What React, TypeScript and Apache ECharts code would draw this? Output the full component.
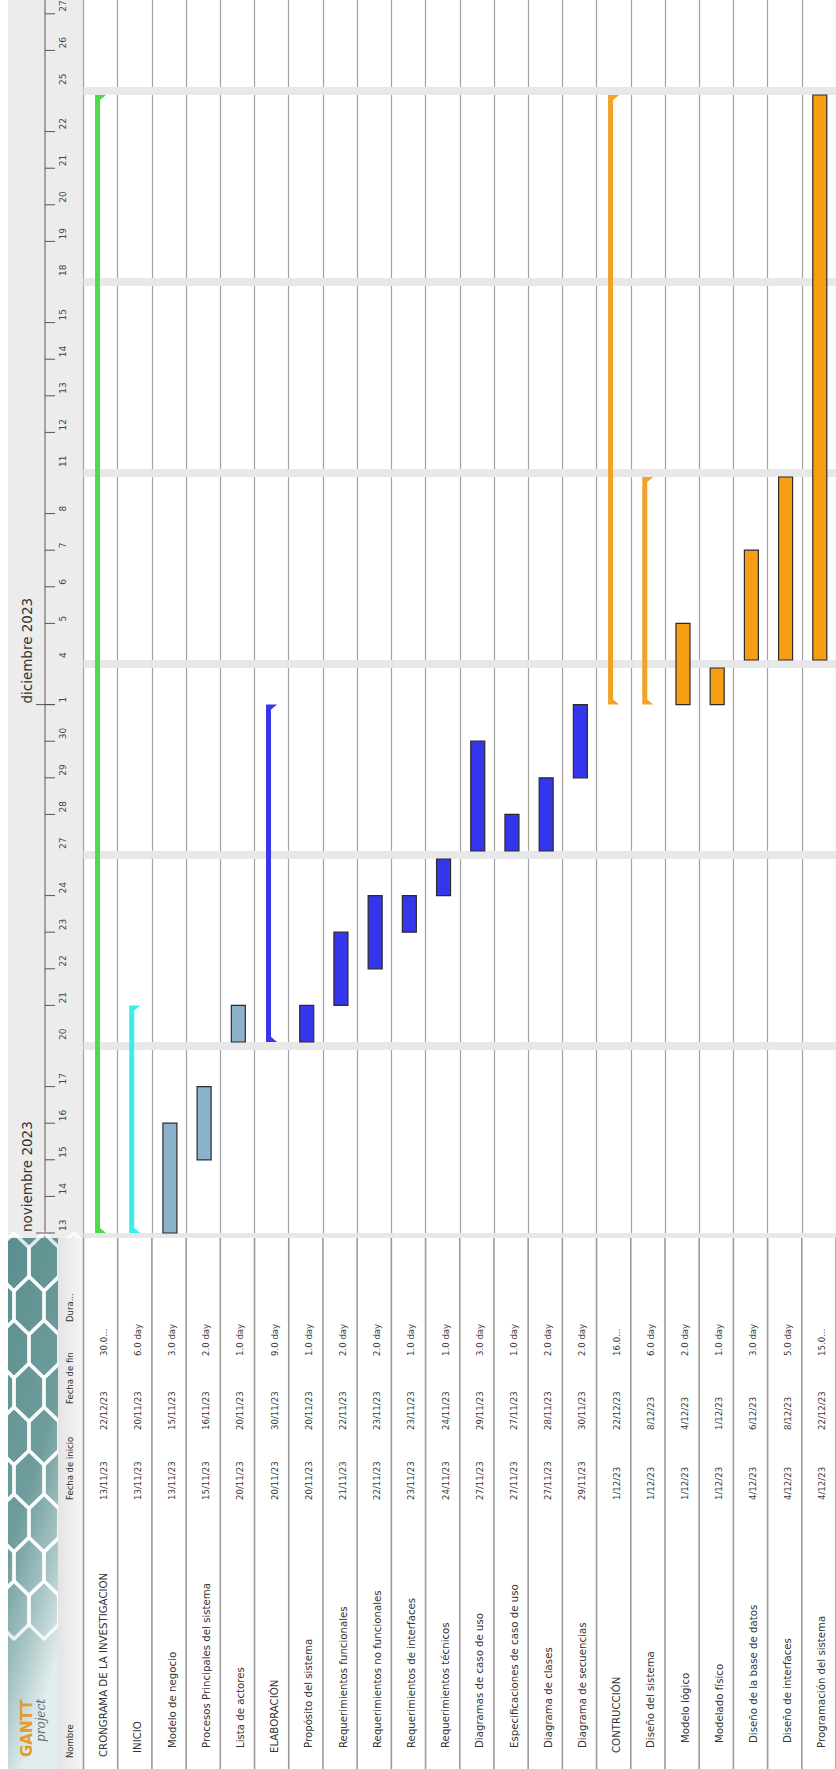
import React, { useEffect, useRef } from 'react';
import * as echarts from 'echarts';

// ---------------- DATA ----------------
const ORIGIN = '13/11/23';

const TASK_NAMES = [
  'CRONGRAMA DE LA INVESTIGACION',
  'INICIO',
  'Modelo de negocio',
  'Procesos Principales del sistema',
  'Lista de actores',
  'ELABORACIÓN',
  'Propósito del sistema',
  'Requerimientos funcionales',
  'Requerimientos no funcionales',
  'Requerimientos de interfaces',
  'Requerimientos técnicos',
  'Diagramas de caso de uso',
  'Especificaciones de caso de uso',
  'Diagrama de clases',
  'Diagrama de secuencias',
  'CONTRUCCIÓN',
  'Diseño del sistema',
  'Modelo lógico',
  'Modelado físico',
  'Diseño de la base de datos',
  'Diseño de interfaces',
  'Programación del sistema',
];
const TASK_LEVELS = [0, 1, 2, 2, 2, 1, 2, 2, 2, 2, 2, 2, 2, 2, 2, 1, 2, 3, 3, 3, 3, 2];
const TASK_STARTS = [
  '13/11/23', '13/11/23', '13/11/23', '15/11/23', '20/11/23', '20/11/23', '20/11/23', '21/11/23',
  '22/11/23', '23/11/23', '24/11/23', '27/11/23', '27/11/23', '27/11/23', '29/11/23', '1/12/23',
  '1/12/23', '1/12/23', '1/12/23', '4/12/23', '4/12/23', '4/12/23',
];
const TASK_ENDS = [
  '22/12/23', '20/11/23', '15/11/23', '16/11/23', '20/11/23', '30/11/23', '20/11/23', '22/11/23',
  '23/11/23', '23/11/23', '24/11/23', '29/11/23', '27/11/23', '28/11/23', '30/11/23', '22/12/23',
  '8/12/23', '4/12/23', '1/12/23', '6/12/23', '8/12/23', '22/12/23',
];
const TASK_DURATIONS = [
  '30.0...', '6.0 day', '3.0 day', '2.0 day', '1.0 day', '9.0 day', '1.0 day', '2.0 day',
  '2.0 day', '1.0 day', '1.0 day', '3.0 day', '1.0 day', '2.0 day', '2.0 day', '16.0...',
  '6.0 day', '2.0 day', '1.0 day', '3.0 day', '5.0 day', '15.0...',
];
const TASK_SUMMARY = [true, true, false, false, false, true, false, false, false, false, false, false, false, false, false, true, true, false, false, false, false, false];
const TASK_PHASE = ['root', 'inicio', 'inicio', 'inicio', 'inicio', 'elab', 'elab', 'elab', 'elab', 'elab', 'elab', 'elab', 'elab', 'elab', 'elab', 'constr', 'constr', 'constr', 'constr', 'constr', 'constr', 'constr'];

const DAY_TICKS = [
  '13/11/23', '14/11/23', '15/11/23', '16/11/23', '17/11/23',
  '20/11/23', '21/11/23', '22/11/23', '23/11/23', '24/11/23',
  '27/11/23', '28/11/23', '29/11/23', '30/11/23', '1/12/23',
  '4/12/23', '5/12/23', '6/12/23', '7/12/23', '8/12/23',
  '11/12/23', '12/12/23', '13/12/23', '14/12/23', '15/12/23',
  '18/12/23', '19/12/23', '20/12/23', '21/12/23', '22/12/23',
  '25/12/23', '26/12/23', '27/12/23',
];
const WEEKENDS = ['11/11/23', '18/11/23', '25/11/23', '2/12/23', '9/12/23', '16/12/23', '23/12/23'];
const MONTH_LABELS = ['noviembre 2023', 'diciembre 2023'];
const MONTH_STARTS = ['1/11/23', '1/12/23'];
const HEADER_LABELS = ['Nombre', 'Fecha de inicio', 'Fecha de fin', 'Dura...'];

// ---------------- STYLE / LAYOUT ----------------
const W = 836;
const H = 1769;
const DAY_PX = 36.6;
const WEEKEND_PX = 8;
const WEEKEND_UNITS = WEEKEND_PX / DAY_PX;
const ROW_PX = 34.45;
const GRID_LEFT = 83.5;
const CHART_BOTTOM = 1238; // where the task table starts
const ORIGIN_Y = 1233; // pixel row of the start of 13/11/23

const SUMMARY_COLORS: Record<string, string> = {
  root: '#4cdc4c',
  inicio: '#35eeee',
  elab: '#3636e4',
  constr: '#f2a226',
};
const TASK_COLORS: Record<string, string> = {
  inicio: '#8bb1cb',
  elab: '#3535ee',
  constr: '#f79f14',
};
const FONT = '"DejaVu Sans", "Liberation Sans", sans-serif';

// table column (y) positions: text starts here and reads upward
const NAME_Y = 1757;
const LEVEL_INDENT = [0, 4, 9, 14];
const START_Y = 1500;
const END_Y = 1430;
const DUR_Y = 1356;
const HEADER_X = 70;
const HEADER_YS = [1758, 1500, 1404, 1322];

// ---------------- helpers ----------------
function parseD(s: string) {
  const [d, m, y] = s.split('/').map(Number);
  return Date.UTC(2000 + y, m - 1, d);
}
const DAY_MS = 86400000;
function offsetOf(s: string) {
  let t = parseD(ORIGIN);
  const target = parseD(s);
  let u = 0;
  if (target >= t) {
    while (t < target) {
      const wd = new Date(t).getUTCDay();
      if (wd === 6) u += WEEKEND_UNITS;
      else if (wd !== 0) u += 1;
      t += DAY_MS;
    }
  } else {
    while (t > target) {
      t -= DAY_MS;
      const wd = new Date(t).getUTCDay();
      if (wd === 6) u -= WEEKEND_UNITS;
      else if (wd !== 0) u -= 1;
    }
  }
  return u;
}

function vText(x: number, y: number, text: string, font: string, fill: string, extra: any = {}) {
  return {
    type: 'text',
    x,
    y,
    rotation: Math.PI / 2,
    style: {
      text,
      font,
      fill,
      align: 'left',
      textAlign: 'left',
      verticalAlign: 'middle',
      textVerticalAlign: 'middle',
    },
    ...extra,
  };
}

function buildHexes() {
  const els: any[] = [];
  const hw = 30;
  const hh = 58;
  for (let r = 0; r < 9; r++) {
    for (let c = -1; c < 3; c++) {
      const cx = 14 + c * hw + (r % 2 ? hw / 2 : 0);
      const cy = 1262 + r * hh * 0.75;
      const pts = [
        [cx, cy - hh / 2],
        [cx + hw / 2, cy - hh / 4],
        [cx + hw / 2, cy + hh / 4],
        [cx, cy + hh / 2],
        [cx - hw / 2, cy + hh / 4],
        [cx - hw / 2, cy - hh / 4],
      ];
      const op = cy > 1620 ? 0.35 : 0.8;
      els.push({
        type: 'polygon',
        z: 2,
        silent: true,
        shape: { points: pts },
        style: { fill: 'none', stroke: `rgba(255,255,255,${op})`, lineWidth: 3.5, lineJoin: 'round' },
      });
    }
  }
  return els;
}

export default function App() {
  const ref = useRef<HTMLDivElement>(null);

  useEffect(() => {
    if (!ref.current) return;
    const chart = echarts.init(ref.current, undefined, { renderer: 'svg' });

    const taskData = TASK_NAMES.map((_, i) => [i, offsetOf(TASK_STARTS[i]), offsetOf(TASK_ENDS[i]) + 1]);
    const weekendData = WEEKENDS.map((d) => [0, offsetOf(d), offsetOf(d) + WEEKEND_UNITS]);
    const dayData = DAY_TICKS.map((d) => [0, offsetOf(d)]);
    const monthData = MONTH_STARTS.map((d) => [0, Math.max(0, offsetOf(d))]);
    const tableData = TASK_NAMES.map((_, i) => [i, 0]);

    const graphicEls: any[] = [
      // header strip (timeline)
      { type: 'rect', z: 0, silent: true, shape: { x: 8, y: 0, width: GRID_LEFT - 8, height: CHART_BOTTOM }, style: { fill: '#ececec' } },
      { type: 'line', z: 1, silent: true, shape: { x1: 45, y1: 0, x2: 45, y2: CHART_BOTTOM }, style: { stroke: '#5a5a5a', lineWidth: 1 } },
      // teal logo panel
      {
        type: 'rect', z: 1, silent: true,
        shape: { x: 8, y: CHART_BOTTOM, width: 50, height: H - CHART_BOTTOM },
        style: {
          fill: new echarts.graphic.LinearGradient(0, 0, 0.3, 1, [
            { offset: 0, color: '#5a8e8e' },
            { offset: 0.55, color: '#6f9d9d' },
            { offset: 0.8, color: '#a9c6c6' },
            { offset: 1, color: '#e2eded' },
          ]),
        },
      },
      ...buildHexes(),
      // masks
      { type: 'rect', z: 3, silent: true, shape: { x: 0, y: CHART_BOTTOM, width: 8, height: H - CHART_BOTTOM }, style: { fill: '#ffffff' } },
      {
        type: 'rect', z: 3, silent: true,
        shape: { x: 58, y: CHART_BOTTOM, width: GRID_LEFT - 58, height: H - CHART_BOTTOM },
        style: { fill: new echarts.graphic.LinearGradient(0, 0, 1, 0, [
          { offset: 0, color: '#e4e4e4' },
          { offset: 1, color: '#f6f6f6' },
        ]) },
      },
      { type: 'rect', z: 3, silent: true, shape: { x: GRID_LEFT, y: CHART_BOTTOM, width: W - GRID_LEFT, height: H - CHART_BOTTOM }, style: { fill: '#ffffff' } },
      // logo text
      vText(27, 1757, 'GANTT', `bold 15px ${FONT}`, '#e39b2a', { z: 4, silent: true }),
      vText(41, 1742, 'project', `italic 12px "DejaVu Serif", serif`, '#5e6a70', { z: 4, silent: true }),
      // header labels
      ...HEADER_LABELS.map((t, k) => vText(HEADER_X, HEADER_YS[k], t, `8.5px ${FONT}`, '#333', { z: 4, silent: true })),
    ];

    const option: any = {
      animation: false,
      backgroundColor: '#ffffff',
      grid: { left: GRID_LEFT, top: 0, width: 22 * ROW_PX, height: CHART_BOTTOM, containLabel: false },
      xAxis: {
        type: 'value', min: 0, max: 22, interval: 1,
        axisLine: { show: false }, axisTick: { show: false }, axisLabel: { show: false },
        splitLine: { show: true, lineStyle: { color: '#a2a2a2', width: 1.2 } },
      },
      yAxis: { type: 'value', min: -(CHART_BOTTOM - ORIGIN_Y) / DAY_PX, max: ORIGIN_Y / DAY_PX, show: false },
      graphic: { elements: graphicEls },
      series: [
        {
          type: 'custom', name: 'weekends', z: 1, clip: true, silent: true,
          data: weekendData,
          renderItem: (params: any, api: any) => {
            const a = api.coord([0, api.value(1)]);
            const b = api.coord([22, api.value(2)]);
            return { type: 'rect', shape: { x: a[0], y: b[1], width: b[0] - a[0], height: a[1] - b[1] }, style: { fill: '#e8e8e8' } };
          },
        },
        {
          type: 'custom', name: 'tasks', z: 3, clip: true, silent: true,
          data: taskData,
          renderItem: (params: any, api: any) => {
            const i = params.dataIndex;
            const row = api.value(0);
            const p0 = api.coord([row, api.value(1)]);
            const p1 = api.coord([row, api.value(2)]);
            const yBot = p0[1];
            const yTop = p1[1];
            if (TASK_SUMMARY[i]) {
              const xL = p0[0] + 11.5;
              const xR = xL + 5;
              const cap = 11;
              return {
                type: 'polygon',
                shape: { points: [[xL, yTop], [xL + cap, yTop], [xR, yTop + 5], [xR, yBot - 5], [xL + cap, yBot], [xL, yBot]] },
                style: { fill: SUMMARY_COLORS[TASK_PHASE[i]] },
              };
            }
            return {
              type: 'rect',
              shape: { x: p0[0] + 11, y: yTop, width: 14, height: yBot - yTop },
              style: { fill: TASK_COLORS[TASK_PHASE[i]], stroke: '#2b2b2b', lineWidth: 1.2 },
            };
          },
        },
        {
          type: 'custom', name: 'days', z: 5, clip: false, silent: true,
          data: dayData,
          renderItem: (params: any, api: any) => {
            const d = DAY_TICKS[params.dataIndex];
            const y = api.coord([0, api.value(1)])[1];
            const wd = new Date(parseD(d)).getUTCDay();
            const children: any[] = [];
            if (wd !== 1) {
              children.push({ type: 'line', shape: { x1: 45, y1: y, x2: 55, y2: y }, style: { stroke: '#555', lineWidth: 1 } });
            }
            children.push(vText(63, y - 2, String(Number(d.split('/')[0])), `9px ${FONT}`, '#444'));
            return { type: 'group', children };
          },
        },
        {
          type: 'custom', name: 'months', z: 5, clip: false, silent: true,
          data: monthData,
          renderItem: (params: any, api: any) => {
            const y = api.coord([0, api.value(1)])[1];
            return {
              type: 'group',
              children: [
                { type: 'line', shape: { x1: 36, y1: y, x2: 55, y2: y }, style: { stroke: '#555', lineWidth: 1 } },
                vText(27, y - 1, MONTH_LABELS[params.dataIndex], `13.5px ${FONT}`, '#333'),
              ],
            };
          },
        },
        {
          type: 'custom', name: 'table', z: 6, clip: false, silent: true,
          data: tableData,
          renderItem: (params: any, api: any) => {
            const i = params.dataIndex;
            const x0 = api.coord([i, 0])[0];
            const x1 = api.coord([i + 1, 0])[0];
            const cx = (x0 + x1) / 2 + 3;
            const children: any[] = [
              { type: 'line', shape: { x1: x0, y1: CHART_BOTTOM, x2: x0, y2: H }, style: { stroke: '#9a9a9a', lineWidth: 1.6 } },
              vText(cx, NAME_Y - LEVEL_INDENT[TASK_LEVELS[i]], TASK_NAMES[i], `10.2px ${FONT}`, '#333'),
              vText(cx, START_Y, TASK_STARTS[i], `8.6px ${FONT}`, '#3a3a3a'),
              vText(cx, END_Y, TASK_ENDS[i], `8.6px ${FONT}`, '#3a3a3a'),
              vText(cx, DUR_Y, TASK_DURATIONS[i], `8.6px ${FONT}`, '#3a3a3a'),
            ];
            if (i === TASK_NAMES.length - 1) {
              children.push({ type: 'line', shape: { x1: x1, y1: CHART_BOTTOM, x2: x1, y2: H }, style: { stroke: '#9a9a9a', lineWidth: 1.6 } });
            }
            return { type: 'group', children };
          },
        },
      ],
    };

    chart.setOption(option);
    return () => chart.dispose();
  }, []);

  return (
    <div
      ref={ref}
      style={{ position: 'absolute', left: 0, top: 0, width: W, height: H, background: '#fff' }}
    />
  );
}
